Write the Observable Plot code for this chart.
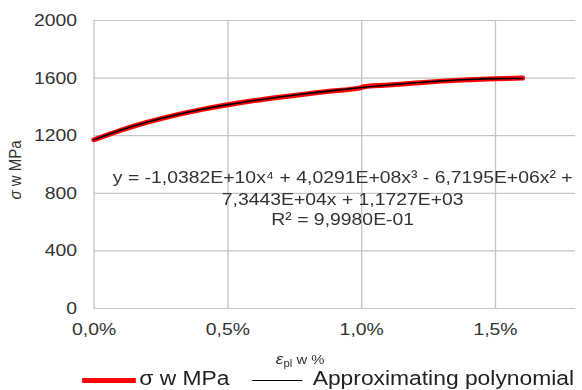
<!DOCTYPE html>
<html>
<head>
<meta charset="utf-8">
<script src="https://cdn.jsdelivr.net/npm/d3@7"></script>
<script src="https://cdn.jsdelivr.net/npm/@observablehq/plot@0.6"></script>
<style>
  html, body { margin: 0; padding: 0; background: #fff; }
  #wrap { position: relative; width: 510px; height: 390px; transform: scaleX(1.1412); transform-origin: 0 0; font-family: "Liberation Sans", Arial, sans-serif; color: #333; }
  #legend { position: absolute; top: 367px; left: 0; height: 22px; width: 510px; font-size: 20px; line-height: 22px; }
  .sw { position: absolute; top: 13px; }
  .lt { position: absolute; top: 0; white-space: nowrap; color: #222; }
</style>
</head>
<body>
<div id="wrap">
  <div id="chart"></div>
  <div id="legend"></div>
</div>
<script>
// ---- data ----
const strainRed = [0, 0.001, 0.002, 0.003, 0.004, 0.005, 0.006, 0.007, 0.008, 0.009, 0.0095, 0.0099, 0.0101, 0.011, 0.012, 0.013, 0.014, 0.015, 0.016];
const stressRed = [1172, 1238, 1294, 1341, 1381, 1415, 1444, 1469, 1492, 1512, 1520, 1530, 1540, 1552, 1566, 1579, 1589, 1596, 1600];

const strainPoly = [0, 0.001, 0.002, 0.003, 0.004, 0.005, 0.006, 0.007, 0.008, 0.009, 0.010, 0.011, 0.012, 0.013, 0.014, 0.015, 0.016];
const stressPoly = [1172.7, 1239.8, 1295.8, 1342.6, 1382.1, 1415.8, 1445.0, 1470.8, 1494.0, 1515.0, 1534.3, 1551.8, 1567.4, 1580.5, 1590.7, 1596.6, 1597.5];

const xTicks = [0, 0.005, 0.010, 0.015];
const yTicks = [0, 400, 800, 1200, 1600, 2000];

const seriesNames = ["σ w MPa", "Approximating polynomial"];
const eqLine1 = ["y = -1,0382E+10x⁴ + 4,0291E+08x³ - 6,7195E+06x² +"];
const eqLine2 = ["7,3443E+04x + 1,1727E+03"];
const eqLine3 = ["R² = 9,9980E-01"];

const redData = strainRed.map((x, i) => ({x, y: stressRed[i]}));
const polyData = strainPoly.map((x, i) => ({x, y: stressPoly[i]}));

const fmtX = d => (d * 100).toFixed(1).replace(".", ",") + "%";
const fmtY = d => String(d);
const gridStyle = {stroke: "#c6c6c6", strokeOpacity: 1, strokeWidth: 1.2};
const eqX = 0.00929;

const svg = Plot.plot({
  width: 510,
  height: 367,
  marginLeft: 82,
  marginRight: 6,
  marginTop: 20,
  marginBottom: 59,
  style: {fontFamily: "'Liberation Sans', Arial, sans-serif", fontSize: "17px", color: "#333", background: "white", overflow: "visible"},
  x: {domain: [0, 0.018], label: null},
  y: {domain: [0, 2000], label: null},
  marks: [
    Plot.gridY(yTicks, gridStyle),
    Plot.gridX(xTicks, gridStyle),
    Plot.axisX(xTicks, {tickSize: 0, tickPadding: 14, tickFormat: fmtX, label: null, fill: "#333"}),
    Plot.axisY(yTicks, {tickSize: 0, tickPadding: 15, tickFormat: fmtY, label: null, fill: "#333"}),
    Plot.line(redData, {x: "x", y: "y", stroke: "#ff0000", strokeWidth: 5, curve: "catmull-rom"}),
    Plot.line(polyData, {x: "x", y: "y", stroke: "#000", strokeWidth: 1.6, curve: "catmull-rom"}),
    Plot.text(eqLine1, {x: () => eqX, y: () => 910, text: d => d, textAnchor: "middle", fill: "#333"}),
    Plot.text(eqLine2, {x: () => eqX, y: () => 754, text: d => d, textAnchor: "middle", fill: "#333"}),
    Plot.text(eqLine3, {x: () => eqX, y: () => 617, text: d => d, textAnchor: "middle", fill: "#333"})
  ]
});

// axis titles
const s = d3.select(svg);
const xl = s.append("text")
  .attr("x", 263).attr("y", 364)
  .attr("text-anchor", "middle")
  .attr("font-size", 13).attr("fill", "#333");
xl.append("tspan").attr("font-style", "italic").attr("font-size", 15).text("ε");
xl.append("tspan").attr("font-size", 10).attr("dy", 3).text("pl");
xl.append("tspan").attr("dy", -3).text(" w %");

const yl = s.append("text")
  .attr("transform", "translate(18,170) rotate(-90)")
  .attr("text-anchor", "middle")
  .attr("font-size", 15).attr("fill", "#333");
yl.append("tspan").attr("font-style", "italic").text("σ");
yl.append("tspan").text(" w MPa");

document.getElementById("chart").appendChild(svg);

// legend
const lg = d3.select("#legend");
lg.append("div").attr("class", "sw").style("left", "72px").style("width", "47px").style("height", "5px").style("margin-top", "-2.5px").style("background", "#ff0000");
lg.append("div").attr("class", "lt").style("left", "122px").text(seriesNames[0]);
lg.append("div").attr("class", "sw").style("left", "221px").style("width", "44px").style("height", "1.3px").style("background", "#000");
lg.append("div").attr("class", "lt").style("left", "274px").text(seriesNames[1]);
</script>
</body>
</html>
